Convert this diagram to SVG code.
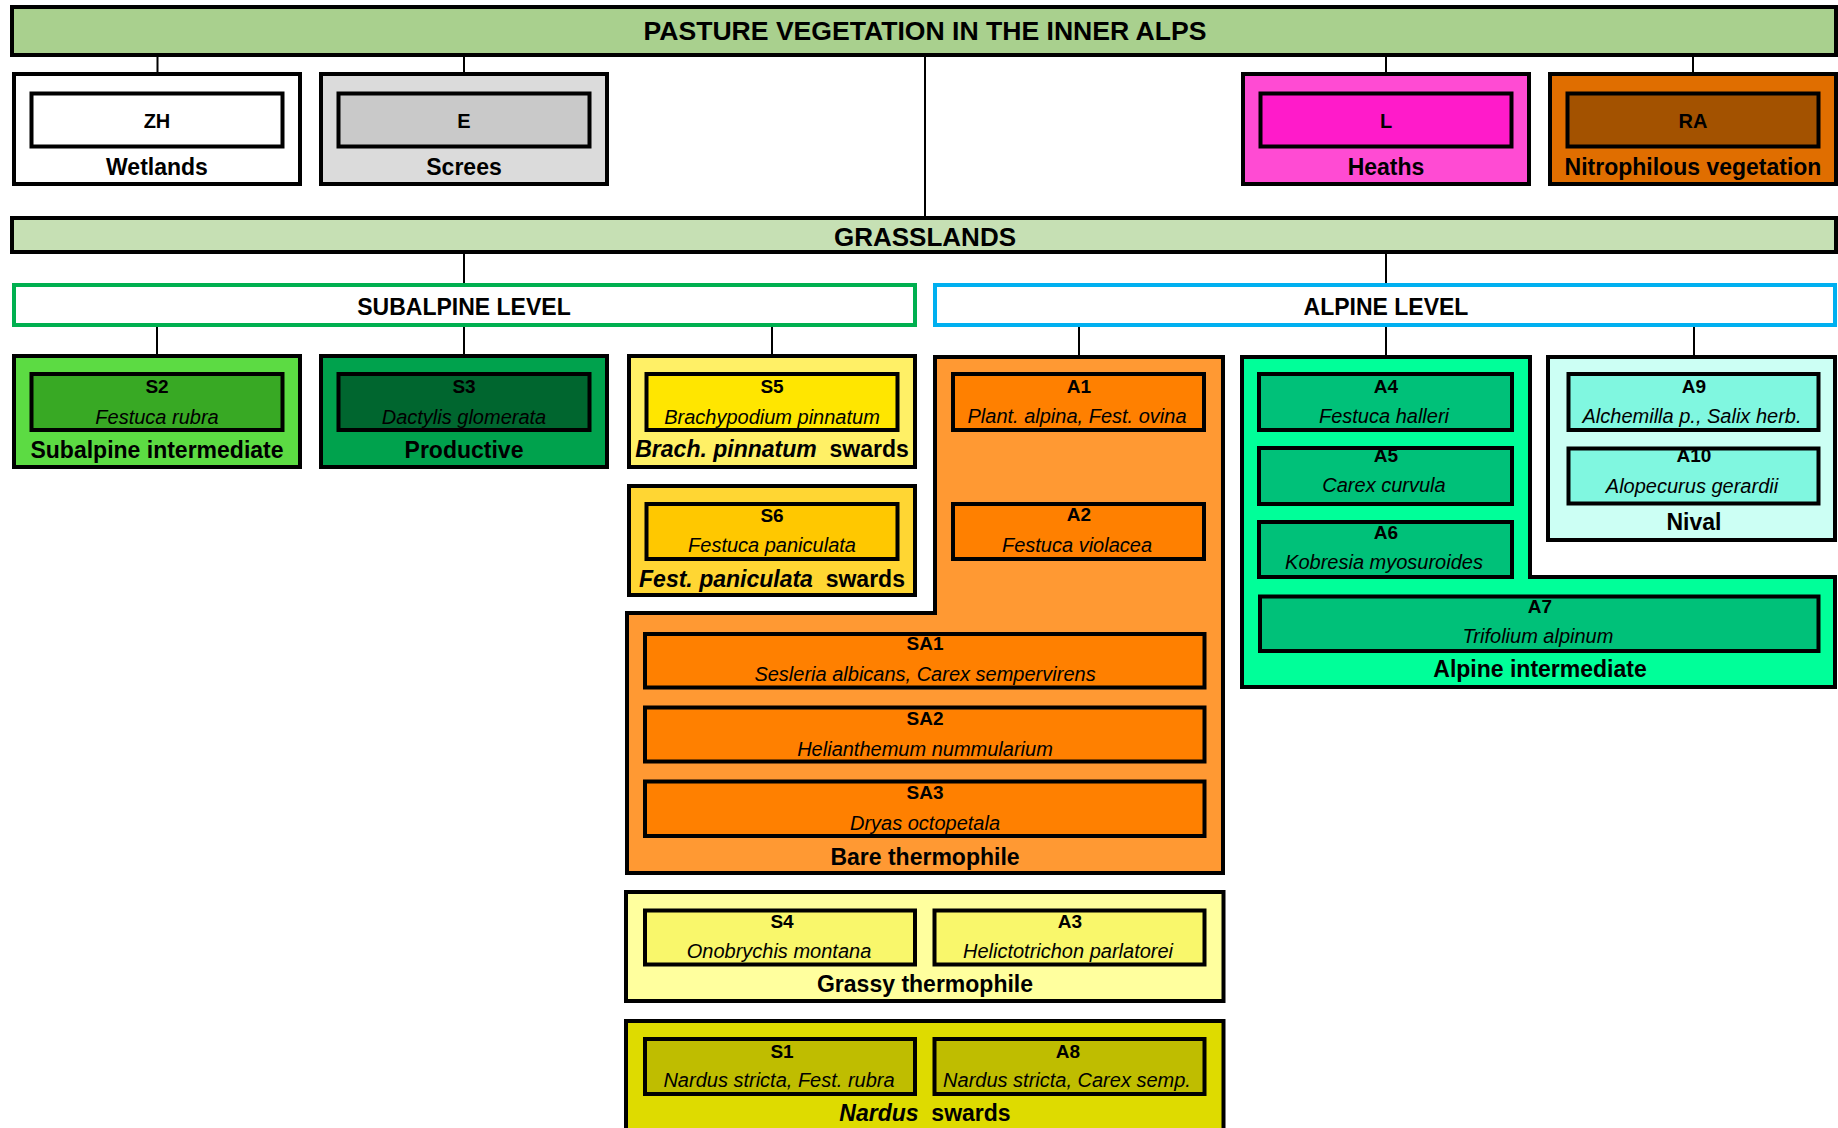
<svg xmlns="http://www.w3.org/2000/svg" width="1838" height="1128" viewBox="0 0 1838 1128">
<style>
text{font-family:"Liberation Sans",Arial,sans-serif;fill:#000;text-anchor:middle}
.o{stroke:#000;stroke-width:4}
.n{stroke:#000;stroke-width:4}
.t{font-size:26px;font-weight:bold}
.h{font-size:23px;font-weight:bold}
.b{font-size:23px;font-weight:bold}
.c{font-size:19px;font-weight:bold}
.k{font-size:20px;font-weight:bold}
.i{font-size:20px;font-style:italic}
.bi{font-style:italic}
#connectors path{stroke:#000;stroke-width:2;fill:none}
</style>
<rect width="1838" height="1128" fill="#fff"/>
<g id="connectors">
<path d="M157.5 55V74M464 55V74M1386 55V74M1693 55V74M925 55V218"/>
<path d="M464 252V285M1386 252V285"/>
<path d="M157 325V356M464 325V356M772 325V356M1079 325V356M1386 325V357M1694 325V357"/>
</g>
<g id="title">
<rect class="o" x="12" y="7" width="1824" height="48" fill="#A9D08E"/>
<text class="t" x="925" y="40" textLength="563" lengthAdjust="spacingAndGlyphs">PASTURE VEGETATION IN THE INNER ALPS</text>
</g>
<g id="wetlands">
<rect class="o" x="14" y="74" width="286" height="110" fill="#fff"/>
<rect class="n" x="31.5" y="93.5" width="251" height="53" fill="#fff"/>
<text class="k" x="157" y="128">ZH</text>
<text class="b" x="157" y="175">Wetlands</text>
</g>
<g id="screes">
<rect class="o" x="321" y="74" width="286" height="110" fill="#DBDBDB"/>
<rect class="n" x="338.5" y="93.5" width="251" height="53" fill="#C9C9C9"/>
<text class="k" x="464" y="128">E</text>
<text class="b" x="464" y="175">Screes</text>
</g>
<g id="heaths">
<rect class="o" x="1243" y="74" width="286" height="110" fill="#FF4BD3"/>
<rect class="n" x="1260.5" y="93.5" width="251" height="53" fill="#FF1BCA"/>
<text class="k" x="1386" y="128">L</text>
<text class="b" x="1386" y="175">Heaths</text>
</g>
<g id="nitrophilous">
<rect class="o" x="1550" y="74" width="286" height="110" fill="#E06E00"/>
<rect class="n" x="1567.5" y="93.5" width="251" height="53" fill="#A35200"/>
<text class="k" x="1693" y="128">RA</text>
<text class="b" x="1693" y="175">Nitrophilous vegetation</text>
</g>
<g id="grasslands">
<rect class="o" x="12" y="218" width="1824" height="34" fill="#C6E0B4"/>
<text class="t" x="925" y="246">GRASSLANDS</text>
</g>
<g id="subalpine-level">
<rect x="14" y="285" width="901" height="40" fill="#fff" stroke="#00B050" stroke-width="4"/>
<text class="h" x="464" y="315">SUBALPINE LEVEL</text>
</g>
<g id="alpine-level">
<rect x="935" y="285" width="900" height="40" fill="#fff" stroke="#00B0F0" stroke-width="4"/>
<text class="h" x="1386" y="315">ALPINE LEVEL</text>
</g>
<g id="subalpine-intermediate">
<rect class="o" x="14" y="356" width="286" height="111" fill="#5CDB43"/>
<g id="S2">
<rect class="n" x="31.5" y="374" width="251" height="56" fill="#38A924"/>
<text class="c" x="157" y="393">S2</text>
<text class="i" x="157" y="424">Festuca rubra</text>
</g>
<text class="b" x="157" y="458">Subalpine intermediate</text>
</g>
<g id="productive">
<rect class="o" x="321" y="356" width="286" height="111" fill="#00A24D"/>
<g id="S3">
<rect class="n" x="338.5" y="374" width="251" height="56" fill="#00662F"/>
<text class="c" x="464" y="393">S3</text>
<text class="i" x="464" y="424">Dactylis glomerata</text>
</g>
<text class="b" x="464" y="458">Productive</text>
</g>
<g id="brach-pinnatum-swards">
<rect class="o" x="629" y="356" width="286" height="111" fill="#FFF066"/>
<g id="S5">
<rect class="n" x="646.5" y="374" width="251" height="56" fill="#FFE600"/>
<text class="c" x="772" y="393">S5</text>
<text class="i" x="772" y="424">Brachypodium pinnatum</text>
</g>
<text class="b" x="772" y="457" xml:space="preserve"><tspan class="bi">Brach. pinnatum</tspan>  swards</text>
</g>
<g id="fest-paniculata-swards">
<rect class="o" x="629" y="486" width="286" height="109" fill="#FFD633"/>
<g id="S6">
<rect class="n" x="646.5" y="504" width="251" height="55" fill="#FFC800"/>
<text class="c" x="772" y="522">S6</text>
<text class="i" x="772" y="552">Festuca paniculata</text>
</g>
<text class="b" x="772" y="587" xml:space="preserve"><tspan class="bi">Fest. paniculata</tspan>  swards</text>
</g>
<g id="bare-thermophile">
<path class="o" d="M935 357H1223V873H627V613H935Z" fill="#FF9933"/>
<g id="A1">
<rect class="n" x="953" y="374" width="251" height="56" fill="#FF8000"/>
<text class="c" x="1079" y="393">A1</text>
<text class="i" x="1077" y="423">Plant. alpina, Fest. ovina</text>
</g>
<g id="A2">
<rect class="n" x="953" y="504" width="251" height="55" fill="#FF8000"/>
<text class="c" x="1079" y="521">A2</text>
<text class="i" x="1077" y="552">Festuca violacea</text>
</g>
<g id="SA1">
<rect class="n" x="645" y="634" width="559.5" height="53.5" fill="#FF8000"/>
<text class="c" x="925" y="650">SA1</text>
<text class="i" x="925" y="681">Sesleria albicans, Carex sempervirens</text>
</g>
<g id="SA2">
<rect class="n" x="645" y="707.5" width="559.5" height="54" fill="#FF8000"/>
<text class="c" x="925" y="725">SA2</text>
<text class="i" x="925" y="756">Helianthemum nummularium</text>
</g>
<g id="SA3">
<rect class="n" x="645" y="781.5" width="559.5" height="54.5" fill="#FF8000"/>
<text class="c" x="925" y="799">SA3</text>
<text class="i" x="925" y="830">Dryas octopetala</text>
</g>
<text class="b" x="925" y="865">Bare thermophile</text>
</g>
<g id="grassy-thermophile">
<rect class="o" x="626" y="892" width="597.5" height="109" fill="#FFFF9E"/>
<g id="S4">
<rect class="n" x="645" y="910.5" width="270" height="54" fill="#F9F76B"/>
<text class="c" x="782" y="928">S4</text>
<text class="i" x="779" y="958">Onobrychis montana</text>
</g>
<g id="A3">
<rect class="n" x="934.5" y="910.5" width="270" height="54" fill="#F9F76B"/>
<text class="c" x="1070" y="928">A3</text>
<text class="i" x="1068" y="958">Helictotrichon parlatorei</text>
</g>
<text class="b" x="925" y="992">Grassy thermophile</text>
</g>
<g id="nardus-swards">
<rect class="o" x="626" y="1021" width="597.5" height="130" fill="#DEDB00"/>
<g id="S1">
<rect class="n" x="645" y="1039" width="270" height="55" fill="#BFBD00"/>
<text class="c" x="782" y="1058">S1</text>
<text class="i" x="779" y="1087">Nardus stricta, Fest. rubra</text>
</g>
<g id="A8">
<rect class="n" x="934.5" y="1039" width="270" height="55" fill="#BFBD00"/>
<text class="c" x="1068" y="1058">A8</text>
<text class="i" x="1067" y="1087">Nardus stricta, Carex semp.</text>
</g>
<text class="b" x="925" y="1121" xml:space="preserve"><tspan class="bi">Nardus</tspan>  swards</text>
</g>
<g id="alpine-intermediate">
<path class="o" d="M1242 357H1530V577H1835V687H1242Z" fill="#00FF99"/>
<g id="A4">
<rect class="n" x="1259" y="374" width="253" height="56" fill="#00C179"/>
<text class="c" x="1386" y="393">A4</text>
<text class="i" x="1384" y="423">Festuca halleri</text>
</g>
<g id="A5">
<rect class="n" x="1259" y="448" width="253" height="56" fill="#00C179"/>
<text class="c" x="1386" y="462">A5</text>
<text class="i" x="1384" y="492">Carex curvula</text>
</g>
<g id="A6">
<rect class="n" x="1259" y="522" width="253" height="55" fill="#00C179"/>
<text class="c" x="1386" y="539">A6</text>
<text class="i" x="1384" y="569">Kobresia myosuroides</text>
</g>
<g id="A7">
<rect class="n" x="1260" y="596.5" width="558.5" height="54.5" fill="#00C179"/>
<text class="c" x="1540" y="613">A7</text>
<text class="i" x="1538" y="643">Trifolium alpinum</text>
</g>
<text class="b" x="1540" y="677">Alpine intermediate</text>
</g>
<g id="nival">
<rect class="o" x="1548" y="357" width="287" height="183" fill="#CCFFF4"/>
<g id="A9">
<rect class="n" x="1568.5" y="374" width="250" height="56" fill="#80F7E0"/>
<text class="c" x="1694" y="393">A9</text>
<text class="i" x="1692" y="423">Alchemilla p., Salix herb.</text>
</g>
<g id="A10">
<rect class="n" x="1568.5" y="448.5" width="250" height="55" fill="#80F7E0"/>
<text class="c" x="1694" y="462">A10</text>
<text class="i" x="1692" y="493">Alopecurus gerardii</text>
</g>
<text class="b" x="1694" y="530">Nival</text>
</g>
</svg>
